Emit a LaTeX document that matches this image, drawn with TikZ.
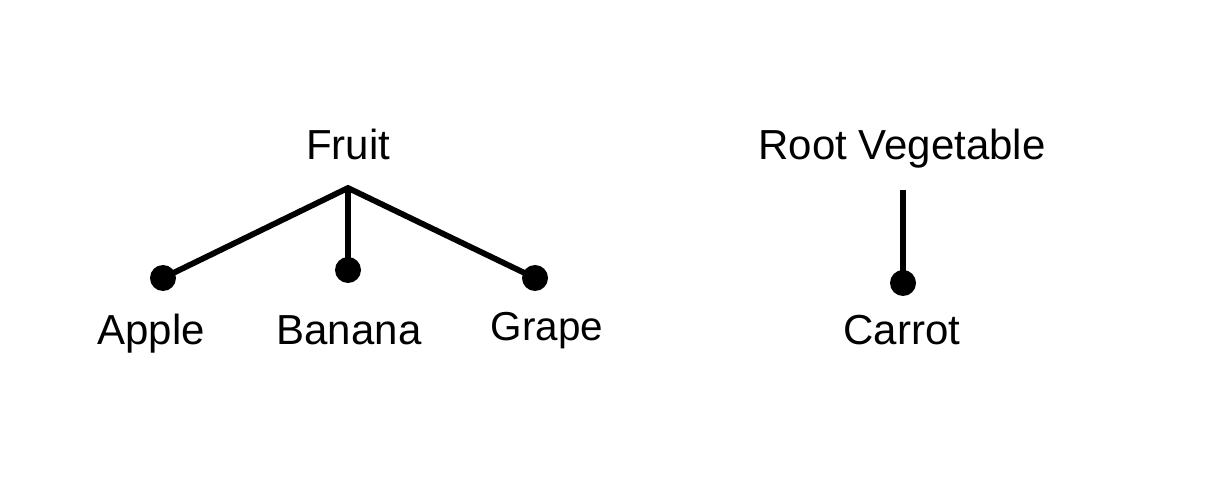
\documentclass[tikz,border=0pt]{standalone}
\usepackage{fontspec}
\setmainfont{Liberation Sans}

\begin{document}
\begin{tikzpicture}[x=0.02cm, y=-0.02cm,
    label/.style={anchor=base, inner sep=0pt, font=\fontsize{23.9}{28}\selectfont},
    leaf/.style={circle, fill=black, inner sep=0pt, minimum size=0.52cm},
    branch/.style={line width=3.3pt}]
    % Page frame
    \useasboundingbox (0,0) rectangle (1206,492);

    % --- Fruit group ---
    \node[label] (fruit) at (348,160) {Fruit};
    \coordinate (fruitjoin) at (348,188);
    \node[leaf] (appledot) at (163,278) {};
    \node[leaf] (bananadot) at (348,270) {};
    \node[leaf] (grapedot) at (535,278) {};
    \node[label] (apple) at (151,345) {Apple};
    \node[label] (banana) at (349,345) {Banana};
    \node[label, font=\fontsize{23}{28}\selectfont] (grape) at (547,341) {Grape};

    \draw[branch] (appledot.center) -- (fruitjoin) -- (grapedot.center);
    \draw[branch] (fruitjoin) -- (bananadot.center);

    % --- Vegetable group ---
    \node[label] (rootveg) at (902,160) {Root Vegetable};
    \coordinate (vegjoin) at (903,190);
    \node[leaf] (carrotdot) at (903,283) {};
    \node[label] (carrot) at (902,345) {Carrot};

    \draw[branch] (vegjoin) -- (carrotdot.center);
\end{tikzpicture}
\end{document}
